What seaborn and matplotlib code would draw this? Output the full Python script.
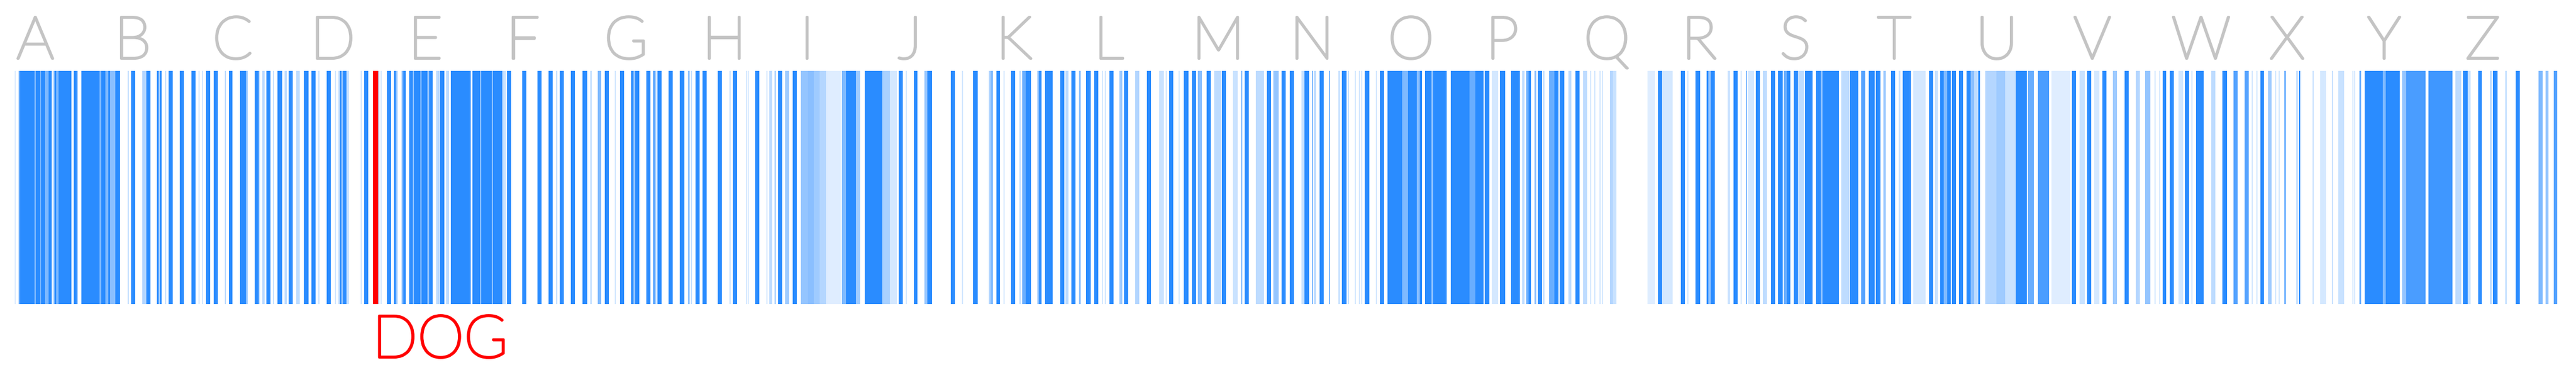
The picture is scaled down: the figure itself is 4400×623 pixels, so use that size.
import numpy as np
import matplotlib
from matplotlib import pyplot as plt
from matplotlib.colors import to_rgba
import matplotlib.transforms as mtransforms
import matplotlib.patheffects as pe
import seaborn as sns

sns.set_style('white')
plt.rcParams['font.family'] = ['Lato', 'DejaVu Sans']

# word-rank axis (alphabetical order), stripes given as start / end / opacity
stripe_start = [
    25, 31, 33, 59, 61, 69, 70, 77, 83, 88, 89, 91, 93, 96, 100, 126, 131, 139, 170, 173,
    180, 185, 188, 197, 218, 224, 243, 250, 268, 271, 273, 282, 288, 307, 327, 339, 345, 352, 365, 384,
    391, 410, 420, 435, 442, 448, 455, 466, 474, 486, 493, 506, 519, 532, 543, 558,
    # D - G
    572, 577, 580, 583, 586, 593, 616, 622, 646, 650, 661, 673, 676, 686, 689, 699, 705, 707, 718, 720,
    730, 733, 745, 751, 762, 770, 807, 820, 822, 840, 842, 858, 866, 892, 918, 937, 950, 956, 975, 995,
    1008, 1021, 1033, 1050, 1059, 1078, 1082, 1085, 1104,
    # H - J
    1116, 1118, 1123, 1142, 1161, 1175, 1180, 1188, 1200, 1226, 1246, 1252, 1274, 1277, 1290, 1309, 1314, 1323, 1329, 1341,
    1354, 1368, 1380, 1390, 1400, 1411, 1438, 1445, 1462, 1477, 1507, 1520, 1535, 1547, 1561, 1579, 1584, 1624, 1643,
    # K - M
    1662, 1689, 1692, 1702, 1714, 1727, 1741, 1746, 1752, 1772, 1775, 1785, 1811, 1820, 1830, 1843, 1855, 1869, 1882, 1887,
    1895, 1912, 1920, 1939, 1959, 1980, 1991, 1997, 2013, 2022, 2036, 2046, 2061, 2074, 2087, 2106, 2120, 2126, 2145, 2164,
    2175, 2189, 2203,
    # N - Q
    2223, 2228, 2241, 2244, 2254, 2270, 2286, 2292, 2302, 2314, 2321, 2325, 2331, 2350, 2357, 2370, 2395, 2405, 2420, 2425,
    2434, 2445, 2448, 2478, 2510, 2520, 2536, 2548, 2562, 2581, 2600, 2607, 2611, 2621, 2627, 2636, 2646, 2655, 2664, 2679,
    2691, 2704, 2716, 2723, 2732, 2736, 2750,
    # Q - T
    2755, 2814, 2832, 2839, 2871, 2882, 2896, 2915, 2918, 2922, 2951, 2961, 2973, 2982, 2986, 2999, 3011, 3025, 3037, 3047,
    3052, 3064, 3071, 3083, 3102, 3110, 3113, 3145, 3160, 3179, 3192, 3204, 3217, 3230, 3243, 3250, 3268, 3295, 3305,
    # U - W
    3314, 3320, 3326, 3334, 3346, 3359, 3366, 3372, 3379, 3391, 3410, 3425, 3443, 3464, 3481, 3504, 3539, 3552, 3565, 3577,
    3591, 3609, 3629, 3648, 3664, 3680, 3688, 3694, 3706, 3721, 3732, 3743, 3751, 3777, 3796, 3815, 3834, 3846, 3854,
    # X - Z
    3861, 3874, 3886, 3892, 3902, 3922, 3927, 3950, 3963, 3983, 3994, 4018, 4021, 4030, 4039, 4070, 4075, 4103, 4110, 4148,
    4194, 4207, 4215, 4233, 4253, 4258, 4279, 4297, 4336, 4348, 4362,
]
stripe_end = [
    26.5, 33, 59, 61, 69, 70, 77, 83, 88, 89, 91, 93, 96, 100, 122, 131, 133, 170, 173, 180,
    185, 188, 197, 205, 219.5, 231, 250, 257, 271, 272.5, 276, 283.5, 295, 314, 334, 340.5, 346.5, 359, 372, 385.5,
    397, 420, 423, 442, 443.5, 452, 462, 467.5, 482, 490, 500, 512, 527, 539, 546, 565,
    # D - G
    573.5, 578.5, 583, 586, 592, 596, 617.5, 629, 648, 652, 668, 676, 679, 689, 693, 705, 707, 718, 720, 730,
    733, 739, 750, 759, 767, 804, 820, 822, 840, 842, 858, 864, 873, 899, 925, 944, 952, 963, 982, 1003,
    1011, 1027, 1040, 1051.5, 1066, 1082, 1085, 1092, 1111,
    # H - J
    1118, 1121, 1130, 1149, 1169, 1178, 1181.5, 1195, 1207, 1233, 1247.5, 1259, 1275.5, 1278.5, 1297, 1310.5, 1319, 1324.5, 1336, 1348,
    1361, 1380, 1390, 1400, 1411, 1436, 1445, 1462, 1469, 1507, 1520, 1532, 1542, 1548.5, 1567, 1584, 1592, 1631, 1644.5,
    # K - M
    1670, 1692, 1696, 1708, 1715.5, 1734, 1744, 1752, 1761, 1775, 1779, 1798, 1818, 1825, 1837, 1846, 1863, 1876, 1883.5, 1888.5,
    1902, 1917, 1927, 1946, 1966, 1988, 1992.5, 2004, 2014.5, 2030, 2043, 2053, 2068, 2086, 2094, 2114, 2121.5, 2133, 2159, 2171,
    2184, 2196, 2210,
    # N - Q
    2227, 2236, 2243, 2248, 2261, 2271.5, 2289, 2300, 2303.5, 2315.5, 2322.5, 2326.5, 2339, 2351.5, 2364, 2395, 2405, 2420, 2425, 2429,
    2445, 2448, 2471, 2510, 2520, 2534, 2544, 2559, 2571, 2596, 2604, 2611, 2615, 2624, 2634, 2637.5, 2655, 2662, 2672, 2684,
    2698, 2711, 2717.5, 2724.5, 2733.5, 2737.5, 2755,
    # Q - T
    2761, 2827, 2839, 2857, 2878, 2883.5, 2904, 2918, 2922, 2929, 2955, 2968, 2974.5, 2983.5, 2996, 3006, 3018, 3032, 3045, 3052,
    3058, 3071, 3082, 3096, 3110, 3113, 3141, 3159, 3174, 3186, 3202, 3212, 3221, 3237, 3246, 3264, 3289, 3302, 3310,
    # U - W
    3320, 3326, 3332, 3341, 3353, 3366, 3372, 3379, 3382, 3410, 3425, 3443, 3462, 3474, 3500, 3536, 3546, 3561, 3572, 3586,
    3598, 3616, 3636, 3655, 3673, 3681.5, 3689.5, 3700, 3713, 3729, 3739, 3744.5, 3764, 3784, 3804, 3822, 3841, 3847.5, 3855.5,
    # X - Z
    3867, 3880, 3887.5, 3893.5, 3904, 3925, 3929, 3952, 3973, 3984.5, 4004, 4019.5, 4022.5, 4033, 4070, 4075, 4099, 4110, 4143, 4189,
    4204, 4215, 4220, 4239, 4256, 4266, 4282, 4304, 4343, 4353, 4368,
]
stripe_alpha = [
    .15, .25, 1, .5, 1, .5, 1, .6, 1, .4, .1, .4, 1, .6, 1, 1, .5, 1, .6, 1,
    .6, 1, .55, 1, .3, 1, .35, 1, 1, .4, 1, .25, 1, 1, 1, .2, .2, 1, 1, .3,
    1, 1, .5, 1, .3, .3, 1, .25, 1, .3, 1, .3, 1, 1, .2, 1,
    # D - G
    .2, .2, 1, .5, 1, .25, .2, 1, .3, .2, 1, 1, .5, .6, 1, 1, .5, 1, .5, 1,
    .5, 1, .3, 1, .3, 1, 1, .5, 1, .5, 1, .25, 1, 1, 1, 1, .3, 1, 1, 1,
    .25, .6, 1, .2, 1, 1, .5, 1, 1,
    # H - J
    1, .4, 1, 1, 1, .5, .25, 1, 1, 1, .25, 1, .2, .2, 1, .2, .3, .5, 1, .45,
    1, .5, .55, .45, .35, .15, .6, 1, .45, 1, .4, .2, 1, .2, 1, .5, 1, 1, .2,
    # K - M
    1, .35, .6, 1, .2, 1, .25, .7, 1, .6, 1, 1, 1, .3, 1, .55, 1, 1, .2, .2,
    1, .45, 1, .35, 1, .25, .2, 1, .2, 1, 1, .55, 1, .3, 1, .25, .6, 1, .3, 1,
    .5, 1, 1,
    # N - Q
    .25, 1, .6, .3, 1, .6, .25, 1, .3, .2, .2, .2, 1, .2, 1, 1, .6, 1, .55, 1,
    1, .5, 1, 1, .7, 1, 1, .2, 1, 1, .3, .7, 1, .55, 1, .3, .7, 1, 1, .3,
    1, .3, .2, .2, .2, .2, .35,
    # Q - T
    .25, .15, 1, .2, 1, .2, 1, 1, .5, 1, .25, 1, .2, .6, .2, 1, .3, 1, 1, .7,
    1, 1, .3, 1, 1, .5, 1, .3, 1, .8, 1, 1, .5, 1, .25, 1, .2, 1, .25,
    # U - W
    1, .6, 1, 1, 1, 1, .55, .3, 1, .35, .45, .25, 1, .7, .85, .15, 1, .25, 1, .2,
    1, .45, 1, .35, .5, .2, .2, 1, 1, .2, 1, .2, 1, .3, 1, .8, .8, .2, .2,
    # X - Z
    1, .45, .2, .2, 1, .25, 1, .25, .2, .25, .25, .2, .2, .7, 1, .6, 1, .5, .85, .9,
    .3, 1, .25, 1, .3, 1, .25, 1, .6, .5, .8,
]

letters = list('ABCDEFGHIJKLMNOPQRSTUVWXYZ')
rank_min, rank_max = 25, 4375

target_word = 'DOG'
target_start, target_end = 637, 646

blue = '#2a8cff'
red = '#ff0000'
grey = '#c4c4c4'

starts = np.array(stripe_start, dtype=float)
widths = np.array(stripe_end, dtype=float) - starts
colors = [to_rgba(blue, a) for a in stripe_alpha]

fig = plt.figure(figsize=(44, 6.23), dpi=100)
ax = fig.add_axes([rank_min / 4400, 104 / 623, (rank_max - rank_min) / 4400, 398 / 623])

ax.bar(starts, 1, width=widths, align='edge', color=colors, linewidth=0)
ax.bar([target_start], [1], width=[target_end - target_start], align='edge',
       color=red, linewidth=0)

ax.set_xlim(rank_min, rank_max)
ax.set_ylim(0, 1)
ax.axis('off')

# letter headings, evenly spaced along the rank axis
trans = mtransforms.blended_transform_factory(ax.transData, fig.transFigure)
step = (rank_max - rank_min) / len(letters)
for i, letter in enumerate(letters):
    ax.text(rank_min + i * step + 3, 1 - 100 / 623, letter, transform=trans,
            ha='left', va='baseline', fontsize=73, fontweight='light', color=grey,
            path_effects=[pe.withStroke(linewidth=3, foreground=grey)])

ax.text(target_start - 1, 13 / 623, target_word, transform=trans, ha='left',
        va='baseline', fontsize=73, fontweight='light', color=red,
        path_effects=[pe.withStroke(linewidth=3, foreground=red)])

plt.savefig('out.png', dpi=100)
